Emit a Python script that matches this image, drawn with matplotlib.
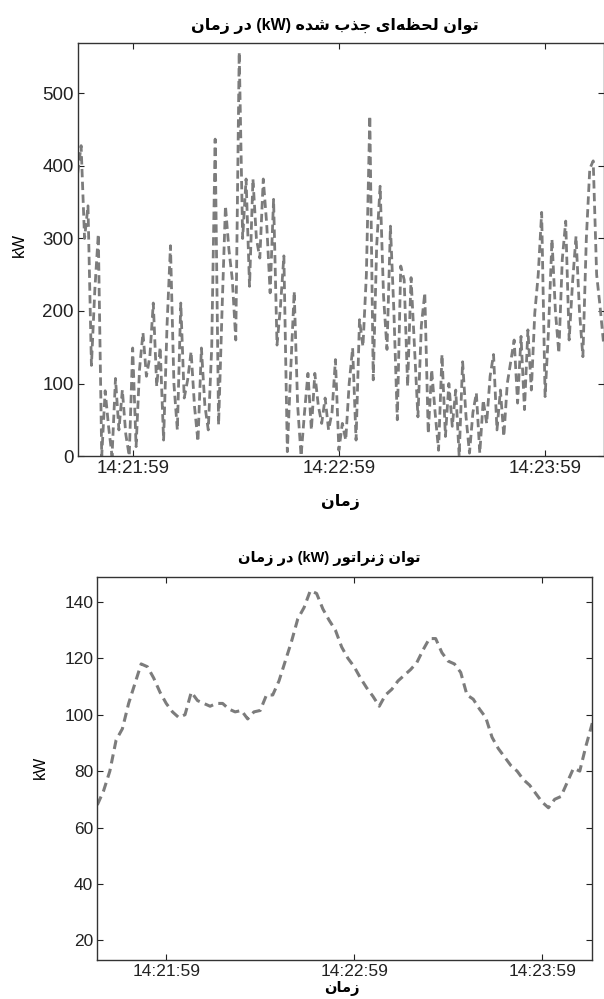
import numpy as np
import matplotlib
matplotlib.use("Agg")
import matplotlib.pyplot as plt
import matplotlib.dates as mdates

# Absorbed instantaneous power, one sample per second from 14:21:43
absorbed_kw = [
    390, 428, 300, 345, 125, 230, 306, 0, 90, 40,
    0, 107, 36, 91, 30, 0, 149, 13, 120, 170,
    110, 137, 211, 96, 150, 22, 180, 290, 100, 36,
    211, 80, 105, 144, 68, 20, 149, 70, 36, 150,
    437, 43, 200, 345, 285, 243, 160, 557, 300, 382,
    234, 382, 300, 273, 382, 320, 225, 354, 153, 206,
    276, 6, 120, 227, 70, 0, 60, 114, 36, 114,
    70, 45, 80, 36, 60, 133, 8, 45, 22, 100,
    149, 22, 188, 151, 250, 469, 105, 290, 372, 220,
    147, 317, 200, 50, 262, 243, 96, 246, 150, 54,
    180, 225, 31, 119, 60, 8, 140, 27, 100, 41,
    91, 0, 130, 54, 4, 60, 87, 4, 77, 45,
    110, 140, 36, 91, 27, 100, 130, 160, 73, 165,
    64, 174, 91, 197, 250, 336, 82, 174, 299, 200,
    142, 271, 324, 160, 240, 303, 200, 137, 300, 396,
    407, 250, 206, 156,
]

# Generator power, one sample every two seconds from 14:21:37
generator_kw = [
    68, 73, 80, 91, 95, 104, 111, 118, 117, 113,
    108, 104, 101, 99, 100, 108, 105, 104, 103, 104,
    104, 102, 101, 101.5, 98.5, 101, 101.5, 107, 107, 112,
    119, 126, 134, 138, 144, 143, 137.5, 133.5, 130, 124,
    120, 117, 113, 109.5, 106.5, 103, 107, 109, 112, 114,
    116, 118.5, 123, 127, 127, 122, 119, 118, 115, 107,
    105.5, 102, 99, 92, 88, 85, 82, 80, 77, 75,
    72, 69, 67, 70, 71, 76, 81, 80, 89, 97,
]

absorbed_start = np.datetime64("2000-01-01T14:21:43")
generator_start = np.datetime64("2000-01-01T14:21:37")
tick_times = ["14:21:59", "14:22:59", "14:23:59"]
absorbed_yticks = [0, 100, 200, 300, 400, 500]
generator_yticks = [20, 40, 60, 80, 100, 120, 140]

# Persian labels, written in display order with contextual letter forms
zaman = "\ufee5\ufe8e\ufee3\ufeaf"                       # زمان
dar = "\ufead\ufea9"                                      # در
tavan = "\ufee5\ufe8d\ufeee\ufe97"                        # توان
lahzei = "\ufeef\ufe8d\ufeea\ufec8\ufea4\ufedf"           # لحظه‌ای
jazb = "\ufe8f\ufeac\ufe9f"                               # جذب
shode = "\ufee9\ufeaa\ufeb7"                              # شده
generator = "\ufead\ufeee\ufe97\ufe8d\ufeae\ufee7\u0698"  # ژنراتور

title_absorbed = f"{zaman} {dar} (kW) {shode} {jazb} {lahzei} {tavan}"
title_generator = f"{zaman} {dar} (kW) {generator} {tavan}"
xlabel_text = zaman

plt.rcParams["font.family"] = ["Liberation Sans", "DejaVu Sans"]

t_abs = absorbed_start + np.arange(len(absorbed_kw)) * np.timedelta64(1, "s")
t_gen = generator_start + np.arange(len(generator_kw)) * np.timedelta64(2, "s")
tick_dt = [np.datetime64("2000-01-01T" + s) for s in tick_times]

line_color = "#7c7c7c"
fig = plt.figure(figsize=(6.04, 9.99), dpi=100)

ax1 = fig.add_axes([0.1286, 0.5435, 0.8706, 0.4138])
ax2 = fig.add_axes([0.1611, 0.0390, 0.8195, 0.3839])


def style(ax, size):
    ax.tick_params(direction="in", top=True, right=True, length=4,
                   width=0.8, labelsize=size, pad=3, colors="#222222")
    for sp in ax.spines.values():
        sp.set_linewidth(1.0)
        sp.set_color("#333333")
    ax.xaxis.set_major_formatter(mdates.DateFormatter("%H:%M:%S"))
    ax.set_xticks(tick_dt)


ax1.plot(t_abs, absorbed_kw, color=line_color, linewidth=2.0,
         linestyle=(0, (3.0, 1.6)))
ax1.set_xlim(t_abs[0], t_abs[-1])
ax1.set_ylim(0, 570)
ax1.set_yticks(absorbed_yticks)
style(ax1, 13.5)
ax1.set_ylabel("kW", fontsize=12)
ax1.yaxis.set_label_coords(-0.096, 0.51)
ax1.text(0.489, 1.040, title_absorbed, transform=ax1.transAxes,
         ha="center", va="center", fontsize=11.5, fontweight="bold")
ax1.text(0.499, -0.110, xlabel_text, transform=ax1.transAxes,
         ha="center", va="center", fontsize=11.5, fontweight="bold")

ax2.plot(t_gen, generator_kw, color=line_color, linewidth=2.2,
         linestyle=(0, (3.0, 1.8)))
ax2.set_xlim(t_gen[0], t_gen[-1])
ax2.set_ylim(13, 149)
ax2.set_yticks(generator_yticks)
style(ax2, 12.5)
ax2.set_ylabel("kW", fontsize=11.5)
ax2.yaxis.set_label_coords(-0.10, 0.503)
ax2.text(0.468, 1.048, title_generator, transform=ax2.transAxes,
         ha="center", va="center", fontsize=10.5, fontweight="bold")
ax2.text(0.494, -0.075, xlabel_text, transform=ax2.transAxes,
         ha="center", va="center", fontsize=10.5, fontweight="bold")

fig.savefig("out.png", dpi=100, facecolor="white")
